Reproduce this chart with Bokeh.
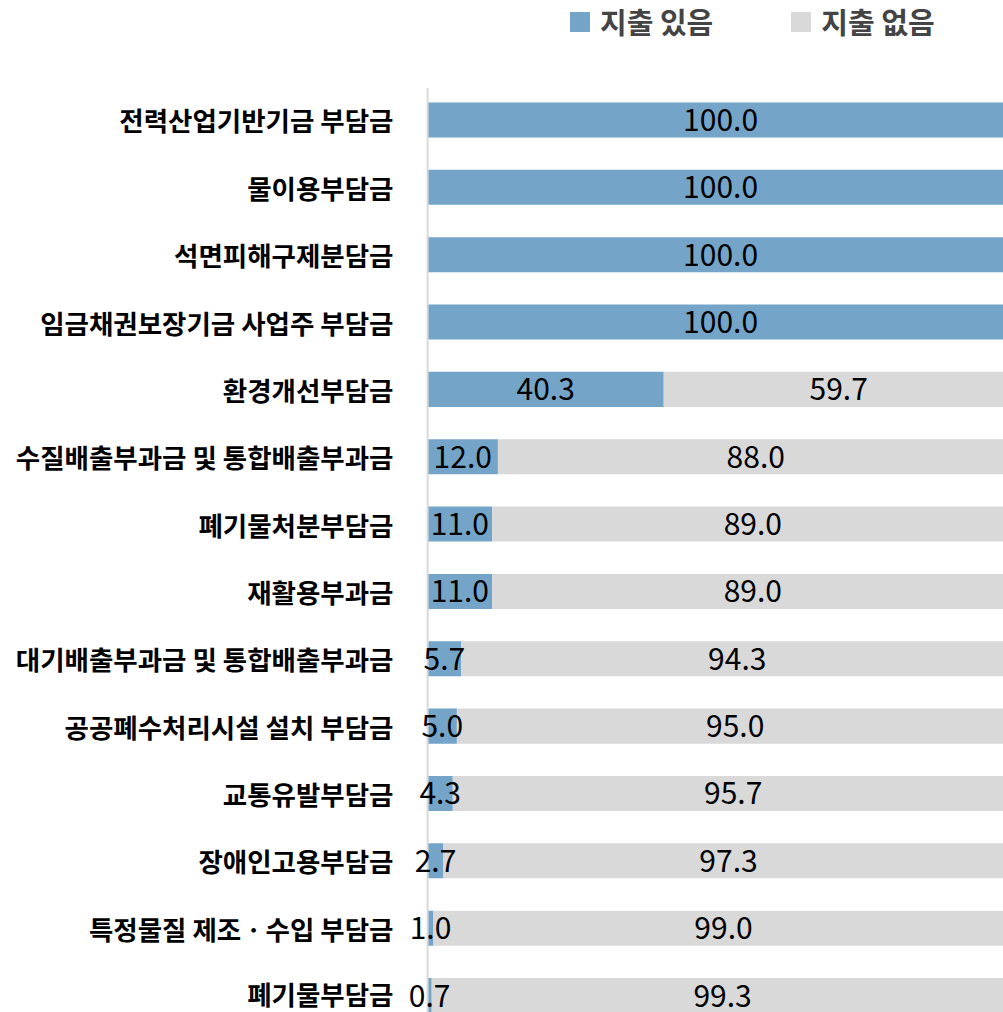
from bokeh.plotting import figure
from bokeh.models import Range1d, FixedTicker, Legend, LegendItem, ColumnDataSource
from bokeh.core.properties import value
from bokeh.embed import file_html
from bokeh.resources import INLINE

categories = ["전력산업기반기금 부담금", "물이용부담금", "석면피해구제분담금", "임금채권보장기금 사업주 부담금",
              "환경개선부담금", "수질배출부과금 및 통합배출부과금", "폐기물처분부담금", "재활용부과금",
              "대기배출부과금 및 통합배출부과금", "공공폐수처리시설 설치 부담금", "교통유발부담금",
              "장애인고용부담금", "특정물질 제조ㆍ수입 부담금", "폐기물부담금"]
spend_yes = [100.0, 100.0, 100.0, 100.0, 40.3, 12.0, 11.0, 11.0, 5.7, 5.0, 4.3, 2.7, 1.0, 0.7]
spend_no = [0.0, 0.0, 0.0, 0.0, 59.7, 88.0, 89.0, 89.0, 94.3, 95.0, 95.7, 97.3, 99.0, 99.3]
series_names = ["지출 있음", "지출 없음"]
colors = ["#75a4c9", "#d9d9d9"]

idx = list(range(len(categories)))
src = ColumnDataSource(dict(
    y=idx,
    yes_end=spend_yes,
    no_end=[a + b for a, b in zip(spend_yes, spend_no)],
    yes_mid=[a / 2 for a in spend_yes],
    no_mid=[a + b / 2 for a, b in zip(spend_yes, spend_no)],
    yes_lbl=[f"{v:.1f}" for v in spend_yes],
    no_lbl=[f"{v:.1f}" if v > 0 else "" for v in spend_no],
))

p = figure(width=1003, height=1012, output_backend="svg", toolbar_location=None,
           x_range=Range1d(-5.308, 98.288), y_range=Range1d(13.252, -1.774),
           min_border_left=396, min_border_right=0, min_border_top=0, min_border_bottom=0)

r_yes = p.hbar(y="y", left=0, right="yes_end", height=0.52, source=src, color=colors[0], line_color=None)
r_no = p.hbar(y="y", left="yes_end", right="no_end", height=0.52, source=src, color=colors[1], line_color=None)

p.segment(x0=[0], x1=[0], y0=[-0.47], y1=[13.252], line_color="#d9d9d9", line_width=2)

for xcol, tcol in (("yes_mid", "yes_lbl"), ("no_mid", "no_lbl")):
    p.text(x=xcol, y="y", text=tcol, source=src, text_align="center", text_baseline="middle",
           text_font=value("Noto Sans CJK KR"), text_font_size="30px", text_color="black")

p.xaxis.visible = False
p.xgrid.visible = False
p.ygrid.visible = False
p.outline_line_color = None
yax = p.yaxis[0]
yax.ticker = FixedTicker(ticks=idx)
yax.major_label_overrides = {i: c for i, c in zip(idx, categories)}
yax.axis_line_color = None
yax.major_tick_line_color = None
yax.minor_tick_line_color = None
yax.major_tick_out = 0
yax.major_tick_in = 0
yax.major_label_standoff = 3
yax.major_label_text_font = "Noto Sans CJK KR"
yax.major_label_text_font_size = "26.5px"
yax.major_label_text_font_style = "bold"
yax.major_label_text_color = "black"

legend = Legend(items=[LegendItem(label=series_names[0], renderers=[r_yes]),
                       LegendItem(label=series_names[1], renderers=[r_no])],
                location=(171, 970), orientation="horizontal",
                spacing=75, padding=0, margin=0, glyph_width=25, glyph_height=25,
                label_height=34, label_standoff=8, label_text_font="Noto Sans CJK KR",
                label_text_font_size="29px", label_text_font_style="bold",
                border_line_color=None, background_fill_alpha=0)
p.add_layout(legend)

open("out.html", "w").write(file_html(p, INLINE))
